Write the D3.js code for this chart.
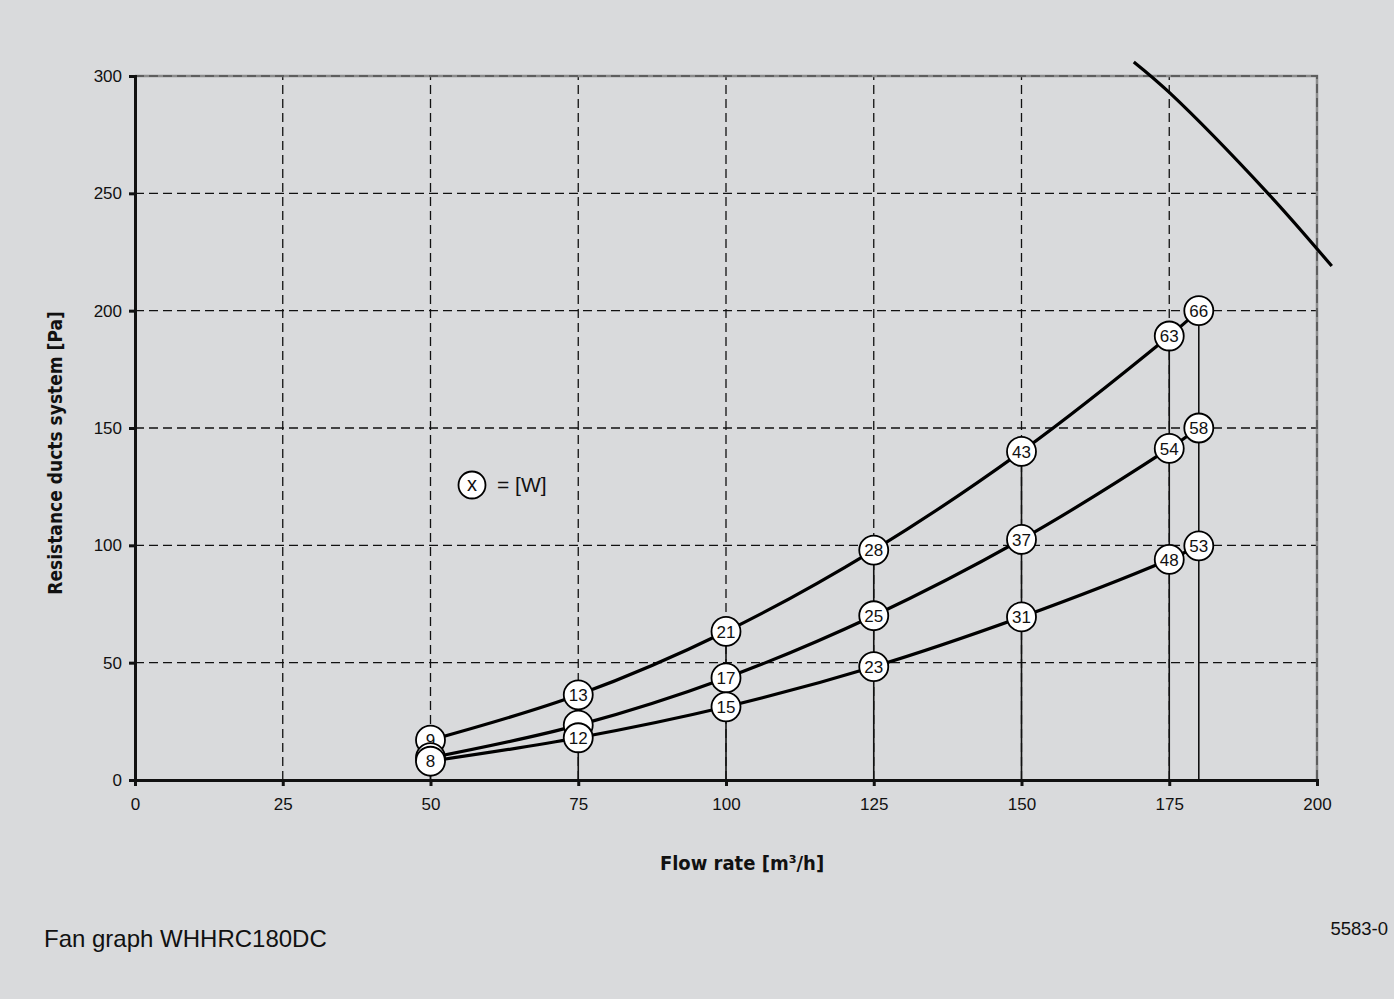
<!DOCTYPE html>
<html>
<head>
<meta charset="utf-8">
<script src="https://cdn.jsdelivr.net/npm/d3@7"></script>
<style>
  html, body { margin: 0; padding: 0; background: #d9dadc; }
  svg { display: block; }
  text { font-family: "Liberation Sans", Arial, sans-serif; fill: #111; }
</style>
</head>
<body>
<svg></svg>
<script>
let width = 1394;
let height = 999;
let margin = { top: 76, right: 77, bottom: 219, left: 135 };

// flow rate points (m3/h) and resistance (Pa) per setting, with power labels (W)
let flowRates = [50, 75, 100, 125, 150, 175, 180];
let highPa = [17, 36.3, 63.3, 98, 140, 189.2, 200];
let highW = ['9', '13', '21', '28', '43', '63', '66'];
let midPa = [9.5, 23.4, 43.5, 70, 102.5, 141.3, 150];
let midW = ['', '', '17', '25', '37', '54', '58'];
let lowPa = [8, 18, 31.2, 48.3, 69.5, 94, 99.8];
let lowW = ['8', '12', '15', '23', '31', '48', '53'];

// max fan curve
let fanFlow = [169, 175, 191.7, 202.5];
let fanPa = [306, 293, 250, 219];

let xTicks = [0, 25, 50, 75, 100, 125, 150, 175, 200];
let yTicks = [0, 50, 100, 150, 200, 250, 300];

let xScale = d3.scaleLinear()
                .domain([0, 200])
                .range([margin.left, width - margin.right]);

let yScale = d3.scaleLinear()
                .domain([0, 300])
                .range([height - margin.bottom, margin.top]);

let svg = d3.select('svg')
              .attr('width', width)
              .attr('height', height);

svg.append('rect')
    .attr('width', width)
    .attr('height', height)
    .attr('fill', '#d9dadc');

// dashed grid
svg.append('g')
  .selectAll('line')
  .data(xTicks.slice(1, -1))
  .enter()
  .append('line')
    .attr('x1', d => xScale(d))
    .attr('x2', d => xScale(d))
    .attr('y1', yScale(0))
    .attr('y2', yScale(300))
    .attr('stroke', '#111')
    .attr('stroke-width', 1.3)
    .attr('stroke-dasharray', '9,5');

svg.append('g')
  .selectAll('line')
  .data(yTicks.slice(1, -1))
  .enter()
  .append('line')
    .attr('x1', xScale(0))
    .attr('x2', xScale(200))
    .attr('y1', d => yScale(d))
    .attr('y2', d => yScale(d))
    .attr('stroke', '#111')
    .attr('stroke-width', 1.3)
    .attr('stroke-dasharray', '9,5');

// grey top and right border
let border = svg.append('g');
border.append('path')
    .attr('d', `M${xScale(0)},${yScale(300)}H${xScale(200)}V${yScale(0)}`)
    .attr('fill', 'none')
    .attr('stroke', '#8c8c8c')
    .attr('stroke-width', 2.5);
border.append('path')
    .attr('d', `M${xScale(0)},${yScale(300)}H${xScale(200)}V${yScale(0)}`)
    .attr('fill', 'none')
    .attr('stroke', '#5e5e5e')
    .attr('stroke-width', 2)
    .attr('stroke-dasharray', '9,5');

// axes
let xAxis = svg.append('g')
    .attr('transform', `translate(0, ${yScale(0)})`)
    .call(d3.axisBottom(xScale).tickValues(xTicks).tickSize(6).tickPadding(12).tickFormat(d3.format('d')));

let yAxis = svg.append('g')
    .attr('transform', `translate(${xScale(0)}, 0)`)
    .call(d3.axisLeft(yScale).tickValues(yTicks).tickSize(6).tickPadding(7).tickFormat(d3.format('d')));

[xAxis, yAxis].forEach(ax => {
  ax.select('.domain').attr('stroke', '#111').attr('stroke-width', 3);
  ax.selectAll('.tick line').attr('stroke', '#111').attr('stroke-width', 3);
  ax.selectAll('.tick text')
    .style('font-family', '"Liberation Sans", Arial, sans-serif')
    .style('font-size', '17px')
    .attr('fill', '#111');
});

// drop lines from the top point of each flow rate
svg.append('g')
  .selectAll('line')
  .data(flowRates.map((f, i) => [f, highPa[i]]))
  .enter()
  .append('line')
    .attr('x1', d => xScale(d[0]))
    .attr('x2', d => xScale(d[0]))
    .attr('y1', d => yScale(d[1]))
    .attr('y2', yScale(0))
    .attr('stroke', '#111')
    .attr('stroke-width', 1.6);

let line = d3.line()
              .x(d => xScale(d[0]))
              .y(d => yScale(d[1]))
              .curve(d3.curveCatmullRom.alpha(0.5));

let series = [
  { pa: highPa, w: highW },
  { pa: midPa, w: midW },
  { pa: lowPa, w: lowW }
];

series.forEach(s => {
  svg.append('path')
    .datum(flowRates.map((f, i) => [f, s.pa[i]]))
    .attr('d', line)
    .attr('fill', 'none')
    .attr('stroke', '#000')
    .attr('stroke-width', 3.2);
});

svg.append('path')
  .datum(fanFlow.map((f, i) => [f, fanPa[i]]))
  .attr('d', line)
  .attr('fill', 'none')
  .attr('stroke', '#000')
  .attr('stroke-width', 3.2);

// power markers
series.forEach(s => {
  let g = svg.append('g')
    .selectAll('g')
    .data(flowRates.map((f, i) => ({ f: f, pa: s.pa[i], w: s.w[i] })))
    .enter()
    .append('g')
      .attr('transform', d => `translate(${xScale(d.f)}, ${yScale(d.pa)})`);

  g.append('circle')
    .attr('r', 14.5)
    .attr('fill', '#fff')
    .attr('stroke', '#000')
    .attr('stroke-width', 1.8);

  g.append('text')
    .attr('text-anchor', 'middle')
    .attr('dy', '0.36em')
    .style('font-size', '17px')
    .text(d => d.w);
});

// legend
let legend = svg.append('g')
    .attr('transform', 'translate(472, 485)');
legend.append('circle')
    .attr('r', 13.5)
    .attr('fill', '#fff')
    .attr('stroke', '#000')
    .attr('stroke-width', 1.8);
legend.append('text')
    .attr('text-anchor', 'middle')
    .attr('dy', '0.3em')
    .style('font-size', '20px')
    .text('x');
legend.append('text')
    .attr('x', 25)
    .attr('dy', '0.33em')
    .style('font-size', '21px')
    .text('= [W]');

// axis titles
svg.append('text')
  .attr('x', 742)
  .attr('y', 870)
  .style('text-anchor', 'middle')
  .style('font-family', '"DejaVu Sans Condensed", "DejaVu Sans", sans-serif')
  .style('font-weight', 'bold')
  .style('font-size', '20px')
  .text('Flow rate [m³/h]');

svg.append('text')
  .attr('transform', 'rotate(-90)')
  .attr('x', -453)
  .attr('y', 62)
  .style('text-anchor', 'middle')
  .style('font-family', '"DejaVu Sans Condensed", "DejaVu Sans", sans-serif')
  .style('font-weight', 'bold')
  .style('font-size', '19px')
  .text('Resistance ducts system [Pa]');

svg.append('text')
  .attr('x', 44)
  .attr('y', 947)
  .style('font-size', '24px')
  .text('Fan graph WHHRC180DC');

svg.append('text')
  .attr('x', 1388)
  .attr('y', 935)
  .style('text-anchor', 'end')
  .style('font-size', '18.5px')
  .text('5583-0');
</script>
</body>
</html>
